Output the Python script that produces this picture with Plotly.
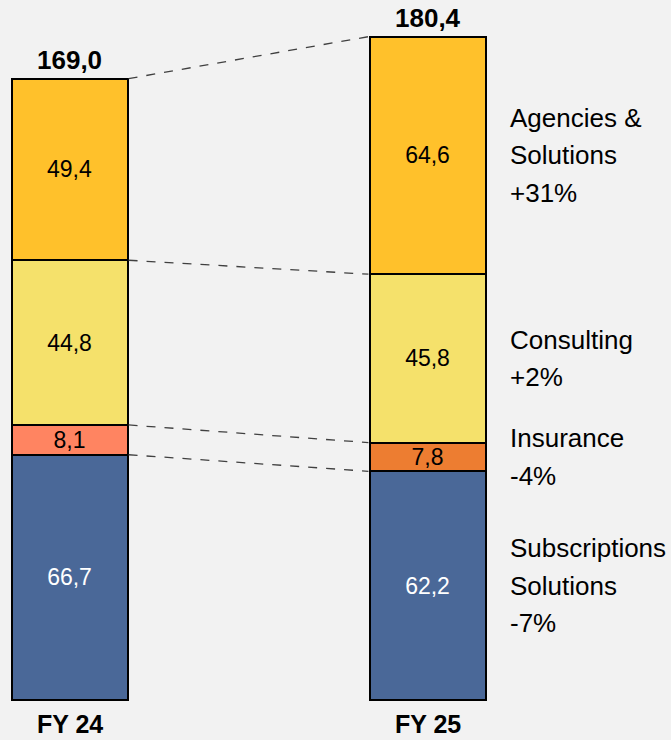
import plotly.graph_objects as go

years = ["FY 24", "FY 25"]
segments = ["Subscriptions Solutions", "Insurance", "Consulting", "Agencies & Solutions"]
subscriptions = [66.7, 62.2]
insurance = [8.1, 7.8]
consulting = [44.8, 45.8]
agencies = [49.4, 64.6]
totals = [169.0, 180.4]
seg_label_lines = [
    ["Subscriptions", "Solutions", "-7%"],
    ["Insurance", "-4%"],
    ["Consulting", "+2%"],
    ["Agencies &", "Solutions", "+31%"],
]

series = [subscriptions, insurance, consulting, agencies]
colors = [
    ["#4A6898", "#4A6898"],
    ["#FF8461", "#ED7D31"],
    ["#F5E16B", "#F5E16B"],
    ["#FFC12B", "#FFC12B"],
]
text_colors = ["white", "black", "black", "black"]

FONT = "Arial, Liberation Sans, sans-serif"
xs = [0, 1]
W = 0.324

fig = go.Figure()
for name, vals, col, tc in zip(segments, series, colors, text_colors):
    fig.add_trace(go.Bar(
        x=xs, y=vals, name=name, width=W,
        marker=dict(color=col, line=dict(color="black", width=2)),
        texttemplate="%{y:.1f}", textposition="inside", insidetextanchor="middle",
        constraintext="none",
        textfont=dict(family=FONT, size=23, color=tc),
        hoverinfo="skip",
    ))

# connectors
cum24, cum25 = 0, 0
for vals in series:
    cum24 += vals[0]
    cum25 += vals[1]
    fig.add_trace(go.Scatter(
        x=[xs[0] + W / 2 + 0.003, xs[1] - W / 2 - 0.003], y=[cum24, cum25],
        mode="lines", line=dict(color="#404040", width=1.3, dash="dash"),
        showlegend=False, hoverinfo="skip",
    ))

# totals
for x, t in zip(xs, totals):
    fig.add_annotation(x=x, y=t, text="<b>%s</b>" % f"{t:.1f}".replace(".", ","),
                       showarrow=False, yanchor="middle", yshift=19,
                       font=dict(family=FONT, size=26, color="black"))

# categories
for x, c in zip(xs, years):
    fig.add_annotation(x=x, y=0, text="<b>%s</b>" % c, showarrow=False,
                       yanchor="middle", yshift=-24,
                       font=dict(family=FONT, size=25, color="black"))

# right labels
cum = 0
for vals, lines in zip(series, seg_label_lines):
    center = cum + vals[1] / 2
    cum += vals[1]
    n = len(lines)
    for k, line in enumerate(lines):
        fig.add_annotation(x=1, y=center, text=line, showarrow=False,
                           xanchor="left", yanchor="middle", xshift=80,
                           yshift=-(k - (n - 1) / 2) * 37.5,
                           font=dict(family=FONT, size=26, color="black"))

fig.update_layout(
    width=671, height=740, barmode="stack", showlegend=False,
    separators=",.",
    paper_bgcolor="#F2F2F2", plot_bgcolor="#F2F2F2",
    margin=dict(l=0, r=0, t=0, b=0),
    xaxis=dict(range=[-69.5 / 358, 1 + (671 - 427.5) / 358], visible=False),
    yaxis=dict(range=[-40 / 3.677, 700 / 3.677], visible=False),
)

fig.write_html("out.html", config={"displayModeBar": False},
               post_script="document.body.style.margin='0';document.body.style.overflow='hidden';")
